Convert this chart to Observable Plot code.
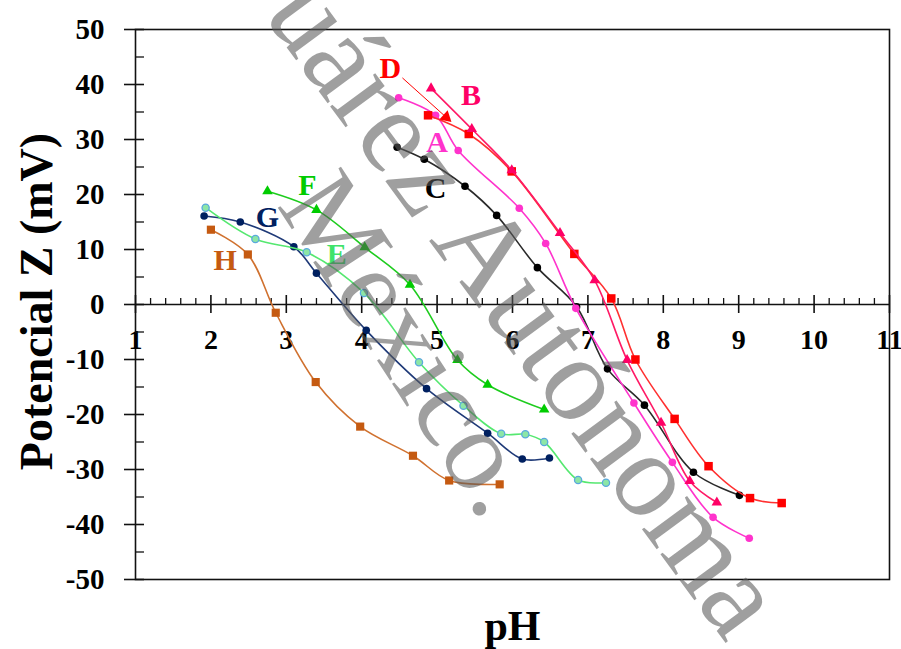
<!DOCTYPE html>
<html>
<head>
<meta charset="utf-8">
<script src="https://cdn.jsdelivr.net/npm/d3@7"></script>
<script src="https://cdn.jsdelivr.net/npm/@observablehq/plot@0.6"></script>
<style>
  body { margin: 0; background: #fff; }
  #chart { width: 901px; height: 649px; }
</style>
</head>
<body>
<div id="chart"></div>
<script>
// ---------- data ----------
const A_x = [4.49, 4.98, 5.28, 6.09, 6.44, 6.84, 7.61, 8.12, 8.66, 9.14];
const A_y = [37.6, 34.4, 28.0, 17.5, 11.1, -0.7, -17.9, -28.7, -38.7, -42.5];

const B_x = [4.92, 5.46, 5.99, 6.63, 7.09, 7.52, 7.97, 8.35, 8.71];
const B_y = [39.3, 31.9, 24.4, 13.0, 4.4, -10.1, -21.5, -32.1, -36.0];

const C_x = [4.47, 4.83, 5.37, 5.79, 6.33, 6.85, 7.26, 7.75, 8.40, 9.01];
const C_y = [28.6, 26.4, 21.5, 16.2, 6.7, -0.4, -11.7, -18.3, -30.5, -34.7];

const D_x = [4.88, 5.42, 5.99, 6.82, 7.31, 7.63, 8.15, 8.60, 9.15, 9.57];
const D_y = [34.4, 31.0, 24.2, 9.2, 1.1, -10.0, -20.8, -29.4, -35.2, -36.1];

const E_x = [1.93, 2.59, 3.27, 4.03, 4.76, 5.35, 5.85, 6.17, 6.42, 6.87, 7.24];
const E_y = [17.6, 11.9, 9.5, 2.1, -10.5, -18.4, -23.5, -23.6, -25.0, -31.9, -32.4];

const F_x = [2.75, 3.40, 4.04, 4.64, 5.27, 5.67, 6.42];
const F_y = [20.6, 17.2, 10.4, 3.6, -10.1, -14.6, -19.1];

const G_x = [1.91, 2.39, 3.10, 3.40, 4.06, 4.86, 5.67, 6.13, 6.49];
const G_y = [16.1, 15.0, 10.5, 5.7, -4.7, -15.3, -23.4, -28.1, -27.9];

const H_x = [2.00, 2.49, 2.86, 3.39, 3.98, 4.68, 5.16, 5.83];
const H_y = [13.6, 9.1, -1.5, -14.1, -22.2, -27.5, -32.0, -32.7];

// series labels placed on the chart
const labelNames = ["A", "B", "C", "D", "E", "F", "G", "H"];
const labelX = [5.00, 5.45, 4.98, 4.38, 3.67, 3.28, 2.75, 2.19];
const labelY = [29.5, 38.0, 21.2, 42.9, 9.1, 21.6, 15.9, 8.1];

// arrow from label D
const arrowFromX = [4.54], arrowFromY = [41.2];
const arrowToX = [5.12], arrowToY = [34.05];

// axis ticks
const xMajorTicks = [1, 2, 3, 4, 5, 6, 7, 8, 9, 10, 11];
const xTickLabels = ["1", "2", "3", "4", "5", "6", "7", "8", "9", "10", "11"];
const xMinorTicks = d3.range(1, 11.001, 0.2).map(v => +v.toFixed(1)).filter(v => !Number.isInteger(v));
const yMajorTicks = [50, 40, 30, 20, 10, 0, -10, -20, -30, -40, -50];
const yTickLabels = ["50", "40", "30", "20", "10", "0", "-10", "-20", "-30", "-40", "-50"];
const yMinorTicks = [45, 35, 25, 15, 5, -5, -15, -25, -35, -45];

const xTitle = "pH";
const yTitle = "Potencial Z (mV)";

// ---------- styles ----------
const FONT = "'Liberation Serif', 'Times New Roman', serif";
const styles = {
  A: {line: "#FF33CC", fill: "#FF33CC", symbol: "circle", r: 3.8},
  B: {line: "#FF1A66", fill: "#FF0066", symbol: "triangle", r: 3.9},
  C: {line: "#2a2a2a", fill: "#000000", symbol: "circle", r: 3.8},
  D: {line: "#FF3030", fill: "#FF0000", symbol: "square", r: 4.8},
  E: {line: "#55E870", fill: "#8CE6A6", stroke: "#5AA8DE", symbol: "circle", r: 3.6},
  F: {line: "#1ECC1E", fill: "#00CC00", symbol: "triangle", r: 3.9},
  G: {line: "#1F3A78", fill: "#002060", symbol: "circle", r: 3.8},
  H: {line: "#D0712F", fill: "#C55A11", symbol: "square", r: 4.6}
};
const labelColors = {A: "#FF33CC", B: "#FF0066", C: "#000000", D: "#FF0000",
                     E: "#3FE36B", F: "#00CC00", G: "#002060", H: "#C55A11"};

const seriesData = {
  A: [A_x, A_y], B: [B_x, B_y], C: [C_x, C_y], D: [D_x, D_y],
  E: [E_x, E_y], F: [F_x, F_y], G: [G_x, G_y], H: [H_x, H_y]
};
const rows = name => seriesData[name][0].map((x, i) => ({x, y: seriesData[name][1][i]}));

const seriesMarks = [];
for (const name of ["H", "G", "E", "F", "C", "A", "D", "B"]) {
  const s = styles[name];
  const data = rows(name);
  seriesMarks.push(Plot.line(data, {x: "x", y: "y", stroke: s.line, strokeWidth: 1.6, curve: "catmull-rom"}));
  seriesMarks.push(Plot.dot(data, {
    x: "x", y: "y", symbol: s.symbol, r: s.r, fill: s.fill,
    stroke: s.stroke || "none", strokeWidth: s.stroke ? 1.3 : 0
  }));
}

const labels = labelNames.map((n, i) => ({n, x: labelX[i], y: labelY[i], c: labelColors[n]}));
const arrow = [{x1: arrowFromX[0], y1: arrowFromY[0], x2: arrowToX[0], y2: arrowToY[0]}];

const plot = Plot.plot({
  width: 901,
  height: 649,
  marginLeft: 135,
  marginRight: 12,
  marginTop: 29,
  marginBottom: 70,
  x: {domain: [1, 11], axis: null},
  y: {domain: [-50, 50], axis: null},
  color: {type: "identity"},
  style: {fontFamily: FONT, background: "#fff", overflow: "visible"},
  marks: [
    Plot.frame({stroke: "#111", strokeWidth: 1.6}),
    // x axis through y = 0
    Plot.ruleY([0], {stroke: "#111", strokeWidth: 1.6}),
    Plot.ruleX(xMinorTicks, {x: d => d, y1: 0, y2: 0, insetTop: -6, insetBottom: 0, stroke: "#111", strokeWidth: 1.3}),
    Plot.ruleX(xMajorTicks, {x: d => d, y1: 0, y2: 0, insetTop: -9, insetBottom: -9, stroke: "#111", strokeWidth: 1.6}),
    Plot.text(xMajorTicks, {x: d => d, y: 0, dy: 36, text: (d, i) => xTickLabels[i], fontSize: 28, fontWeight: "bold", fill: "#000"}),
    // y axis ticks on the left
    Plot.ruleY(yMinorTicks, {y: d => d, x1: 1, x2: 1, insetLeft: 0, insetRight: -9, stroke: "#111", strokeWidth: 1.3}),
    Plot.ruleY(yMajorTicks, {y: d => d, x1: 1, x2: 1, insetLeft: -11, insetRight: -9, stroke: "#111", strokeWidth: 1.6}),
    Plot.text(yMajorTicks, {x: 1, y: d => d, dx: -31, textAnchor: "end", text: (d, i) => yTickLabels[i], fontSize: 29, fontWeight: "bold", fill: "#000"}),
    // series
    ...seriesMarks,
    // annotation arrow for D
    Plot.link(arrow, {x1: "x1", y1: "y1", x2: "x2", y2: "y2", stroke: "#FF0000", strokeWidth: 1}),
    Plot.dot(arrow, {x: "x2", y: "y2", symbol: "triangle", r: 4.6, rotate: 132, fill: "#FF0000"}),
    // series labels
    Plot.text(labels, {x: "x", y: "y", text: "n", fill: "c", fontSize: 30, fontWeight: "bold"}),
    // axis titles
    Plot.text([yTitle], {x: 1, y: 0, dx: -98, dy: -3, text: d => d, rotate: -90, textAnchor: "middle", fontSize: 46, fontWeight: "bold", fill: "#000"}),
    Plot.text([xTitle], {x: 6, y: -50, dy: 47, text: d => d, textAnchor: "middle", fontSize: 42, fontWeight: "bold", fill: "#000"})
  ]
});

// watermark of the source document (overlay)
const svg = d3.select(plot);
const wm = svg.append("g")
  .attr("fill", "#5a5a5a")
  .attr("fill-opacity", 0.58)
  .attr("font-family", FONT)
  .attr("text-anchor", "start")
  .style("pointer-events", "none");
wm.append("text")
  .attr("text-anchor", "start")
  .attr("transform", "translate(262,14) rotate(53.6)")
  .attr("font-size", 122)
  .attr("textLength", 783)
  .attr("lengthAdjust", "spacingAndGlyphs")
  .text("uárez Autónoma");
wm.append("text")
  .attr("text-anchor", "start")
  .attr("transform", "translate(276,205) rotate(57)")
  .attr("font-size", 115)
  .text("México.");

document.getElementById("chart").appendChild(plot);
</script>
</body>
</html>
